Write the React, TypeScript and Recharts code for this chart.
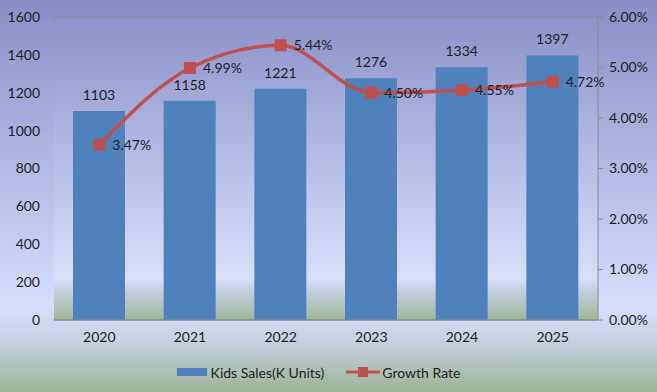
import React from 'react';
import {
  ComposedChart,
  Bar,
  Line,
  XAxis,
  YAxis,
  CartesianGrid,
  Legend,
  LabelList,
} from 'recharts';

const years = ['2020', '2021', '2022', '2023', '2024', '2025'];
const sales = [1103, 1158, 1221, 1276, 1334, 1397];
const growth = [0.0347, 0.0499, 0.0544, 0.045, 0.0455, 0.0472];

const leftTicks = [0, 200, 400, 600, 800, 1000, 1200, 1400, 1600];
const rightTicks = [0, 0.01, 0.02, 0.03, 0.04, 0.05, 0.06];

const BAR_COLOR = '#4f81bd';
const LINE_COLOR = '#c0504d';
const TEXT = '#1e1e1e';
const FONT = 'Lato, "Open Sans", sans-serif';

const data = years.map((year, i) => ({
  year,
  sales: sales[i],
  growth: growth[i],
}));

const pct = (v: any) => `${(Number(v) * 100).toFixed(2)}%`;

// square marker like Excel
const SquareDot = (props: any) => {
  const { cx, cy } = props;
  if (cx == null || cy == null) return null;
  return <rect x={cx - 6} y={cy - 6} width={12} height={12} fill={LINE_COLOR} />;
};

const renderLegend = () => (
  <div
    style={{
      display: 'flex',
      justifyContent: 'center',
      alignItems: 'center',
      height: 20,
      fontFamily: FONT,
      fontSize: 14,
      color: TEXT,
      paddingRight: 20,
    }}
  >
    <span style={{ display: 'inline-block', width: 30, height: 8, background: BAR_COLOR, marginRight: 4 }} />
    <span style={{ marginRight: 22 }}>Kids Sales(K Units)</span>
    <svg width={34} height={12} style={{ marginRight: 2 }}>
      <line x1={0} y1={6} x2={34} y2={6} stroke={LINE_COLOR} strokeWidth={3} />
      <rect x={12} y={1} width={10} height={10} fill={LINE_COLOR} />
    </svg>
    <span>Growth Rate</span>
  </div>
);

const App: React.FC = () => {
  return (
    <div
      style={{
        position: 'absolute',
        top: 0,
        left: 0,
        width: 657,
        height: 392,
        background: 'linear-gradient(180deg, #898ec6 0%, #d6defc 78%, #c9d3e6 86%, #9cb497 100%)',
      }}
    >
      <ComposedChart
        width={657}
        height={392}
        data={data}
        margin={{ top: 17, right: 0, left: 0, bottom: 10 }}
      >
        <defs>
          <linearGradient id="plotBg" x1="0" y1="0" x2="0" y2="1">
            <stop offset="0%" stopColor="#8c92c9" />
            <stop offset="86%" stopColor="#d8dffb" />
            <stop offset="90%" stopColor="#c6d0e2" />
            <stop offset="100%" stopColor="#9fb797" />
          </linearGradient>
        </defs>
        <CartesianGrid
          vertical={false}
          stroke="#8a8a8a"
          strokeWidth={1}
          fill="url(#plotBg)"
          fillOpacity={1}
        />
        <XAxis
          dataKey="year"
          height={42}
          tickLine={false}
          axisLine={{ stroke: '#8a8a8a' }}
          tickSize={6}
          tickMargin={6}
          tick={{ fill: TEXT, fontSize: 14, fontFamily: FONT }}
        />
        <YAxis
          yAxisId="left"
          width={54}
          domain={[0, 1600]}
          ticks={leftTicks}
          axisLine={false}
          tickLine={false}
          tickSize={6}
          tickMargin={8}
          tick={{ fill: TEXT, fontSize: 14, fontFamily: FONT }}
          interval={0}
        />
        <YAxis
          yAxisId="right"
          orientation="right"
          width={59}
          domain={[0, 0.06]}
          ticks={rightTicks}
          tickFormatter={pct}
          axisLine={{ stroke: '#8a8a8a' }}
          tickLine={{ stroke: '#8a8a8a' }}
          tickSize={5}
          tickMargin={6}
          tick={{ fill: TEXT, fontSize: 14, fontFamily: FONT }}
          interval={0}
        />
        <Legend verticalAlign="bottom" content={renderLegend} />
        <Bar
          yAxisId="left"
          dataKey="sales"
          name="Kids Sales(K Units)"
          fill={BAR_COLOR}
          barSize={52}
          isAnimationActive={false}
        >
          <LabelList
            dataKey="sales"
            position="top"
            offset={11}
            style={{ fill: TEXT, fontSize: 14, fontFamily: FONT }}
          />
        </Bar>
        <Line
          yAxisId="right"
          type="monotone"
          dataKey="growth"
          name="Growth Rate"
          stroke={LINE_COLOR}
          strokeWidth={3.5}
          dot={<SquareDot />}
          activeDot={false}
          isAnimationActive={false}
        >
          <LabelList
            dataKey="growth"
            position="right"
            offset={13}
            formatter={pct}
            style={{ fill: TEXT, fontSize: 14, fontFamily: FONT }}
          />
        </Line>
      </ComposedChart>
    </div>
  );
};

export default App;
